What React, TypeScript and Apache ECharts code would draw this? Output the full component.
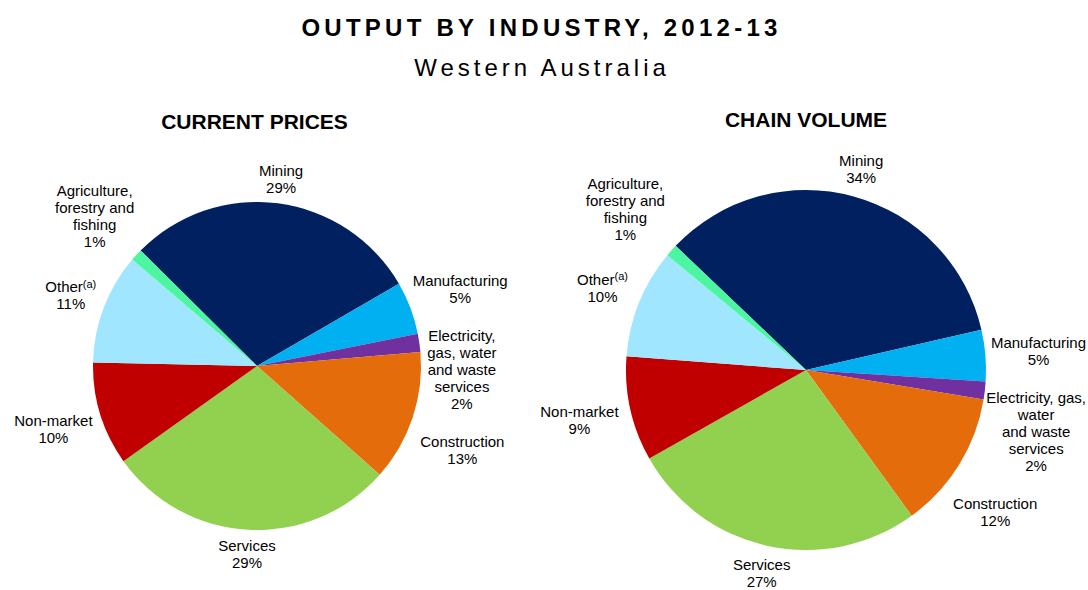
import React, { useEffect, useRef } from "react";
import * as echarts from "echarts";

const industries = [
  "Mining",
  "Manufacturing",
  "Electricity, gas, water and waste services",
  "Construction",
  "Services",
  "Non-market",
  "Other",
  "Agriculture, forestry and fishing",
];
const currentPrices = [29.2, 5.2, 1.8, 12.9, 28.6, 10.2, 10.9, 1.2];
const chainVolume = [34.3, 4.6, 1.6, 12.4, 26.8, 9.4, 9.8, 1.1];
const sliceColors = ["#002060", "#00B0F0", "#7030A0", "#E46C0A", "#92D050", "#C00000", "#A0E6FF", "#4CF5A0"];
const leftLabelLines = [
  ["Mining"],
  ["Manufacturing"],
  ["Electricity,", "gas, water", "and waste", "services"],
  ["Construction"],
  ["Services"],
  ["Non-market"],
  ["Other^"],
  ["Agriculture,", "forestry and", "fishing"],
];
const rightLabelLines = [
  ["Mining"],
  ["Manufacturing"],
  ["Electricity, gas,", "water", "and waste", "services"],
  ["Construction"],
  ["Services"],
  ["Non-market"],
  ["Other^"],
  ["Agriculture,", "forestry and", "fishing"],
];
const mainTitle = "OUTPUT BY INDUSTRY, 2012-13";
const subTitle = "Western Australia";
const leftTitle = "CURRENT PRICES";
const rightTitle = "CHAIN VOLUME";
const footnoteMark = "(a)";

const W = 1088;
const H = 590;
const FONT = '"Liberation Sans", Arial, Helvetica, sans-serif';

type Placed = { x: number; y: number; w: number; h: number };

// Places each label just outside the slice along its bisector, then keeps
// neighbouring labels apart (with padding) like the reference does.
function makeLabelLayout(values: number[], startAngle: number, cx: number, cy: number, r: number, gap: number, pad: number) {
  const placed: Placed[] = [];
  const total = values.reduce((a, b) => a + b, 0);
  return (params: any) => {
    const i = params.dataIndex;
    let before = 0;
    for (let k = 0; k < i; k++) before += values[k];
    const mid = ((startAngle - ((before + values[i] / 2) / total) * 360) * Math.PI) / 180;
    const cos = Math.cos(mid);
    const sin = Math.sin(mid);
    const w = params.labelRect.width;
    const h = params.labelRect.height;
    const tx = Math.abs(cos) > 1e-6 ? w / 2 / Math.abs(cos) : Infinity;
    const ty = Math.abs(sin) > 1e-6 ? h / 2 / Math.abs(sin) : Infinity;
    const t = Math.min(tx, ty);
    let x = cx + (r + gap + t) * cos;
    let y = cy - (r + gap + t) * sin;
    x = Math.min(Math.max(x, w / 2 + 2), W - w / 2 - 2);
    const prev = placed[i - 1];
    if (prev) {
      const ox = Math.abs(prev.x - x) < (prev.w + w) / 2;
      const oy = Math.abs(prev.y - y) < (prev.h + h) / 2 + pad;
      if (ox && oy) {
        if (cos >= 0) y = prev.y + (prev.h + h) / 2 + pad;
        else y = prev.y - (prev.h + h) / 2 - pad;
      }
    }
    y = Math.min(Math.max(y, h / 2 + 1), H - h / 2 - 1);
    placed[i] = { x, y, w, h };
    return { x, y, align: "center", verticalAlign: "middle" };
  };
}

function makeFormatter(lines: string[][]) {
  return (p: any) => {
    const ls = lines[p.dataIndex].map((l) =>
      l.endsWith("^") ? `{c|${l.slice(0, -1)}}{sup|${footnoteMark}}` : `{c|${l}}`
    );
    ls.push(`{c|${Math.round(p.percent)}%}`);
    return ls.join("\n");
  };
}

function pieSeries(values: number[], lines: string[][], cx: number, cy: number, r: number, startAngle: number, gap: number) {
  return {
    type: "pie",
    center: [cx, cy],
    radius: r,
    startAngle,
    clockwise: true,
    avoidLabelOverlap: false,
    percentPrecision: 0,
    silent: true,
    emphasis: { disabled: true },
    itemStyle: { borderWidth: 0 },
    data: industries.map((name, i) => ({ name, value: values[i], itemStyle: { color: sliceColors[i] } })),
    label: {
      show: true,
      position: "outside",
      formatter: makeFormatter(lines),
      rich: {
        c: { align: "center", fontSize: 15, lineHeight: 17, color: "#000", fontFamily: FONT },
        sup: { align: "center", fontSize: 11, lineHeight: 12, verticalAlign: "top", color: "#000", fontFamily: FONT },
      },
    },
    labelLine: { show: false, length: 0, length2: 0 },
    labelLayout: makeLabelLayout(values, startAngle, cx, cy, r, gap, 23),
  };
}

export default function App() {
  const ref = useRef<HTMLDivElement>(null);
  useEffect(() => {
    document.body.style.margin = "0";
    const chart = echarts.init(ref.current!, null, { renderer: "svg" });
    chart.setOption({
      animation: false,
      backgroundColor: "#fff",
      graphic: [
        {
          type: "text",
          x: 254.5,
          y: 121,
          style: { text: leftTitle, align: "center", verticalAlign: "middle", font: `bold 21px ${FONT}`, fill: "#000" },
        },
        {
          type: "text",
          x: 806,
          y: 119,
          style: { text: rightTitle, align: "center", verticalAlign: "middle", font: `bold 21px ${FONT}`, fill: "#000" },
        },
      ],
      series: [
        pieSeries(currentPrices, leftLabelLines, 257, 366, 164, 135.2, 8),
        pieSeries(chainVolume, rightLabelLines, 806, 370, 180, 136.4, 12),
      ],
    });
    return () => chart.dispose();
  }, []);
  const ls1 = 4.25;
  const ls2 = 4;
  return (
    <div style={{ position: "relative", width: W, height: H, overflow: "hidden", background: "#fff" }}>
      <div ref={ref} style={{ position: "absolute", left: 0, top: 0, width: W, height: H }} />
      <div
        style={{
          position: "absolute",
          top: 12,
          left: 0,
          width: 2 * (541.5 - ls1),
          paddingLeft: ls1,
          textAlign: "center",
          fontFamily: FONT,
          fontWeight: "bold",
          fontSize: 24,
          lineHeight: "32px",
          letterSpacing: ls1,
          color: "#000",
          whiteSpace: "nowrap",
        }}
      >
        {mainTitle}
      </div>
      <div
        style={{
          position: "absolute",
          top: 52,
          left: 0,
          width: 2 * (542 - ls2),
          paddingLeft: ls2,
          textAlign: "center",
          fontFamily: FONT,
          fontSize: 24,
          lineHeight: "32px",
          letterSpacing: ls2,
          color: "#000",
          whiteSpace: "nowrap",
        }}
      >
        {subTitle}
      </div>
    </div>
  );
}
